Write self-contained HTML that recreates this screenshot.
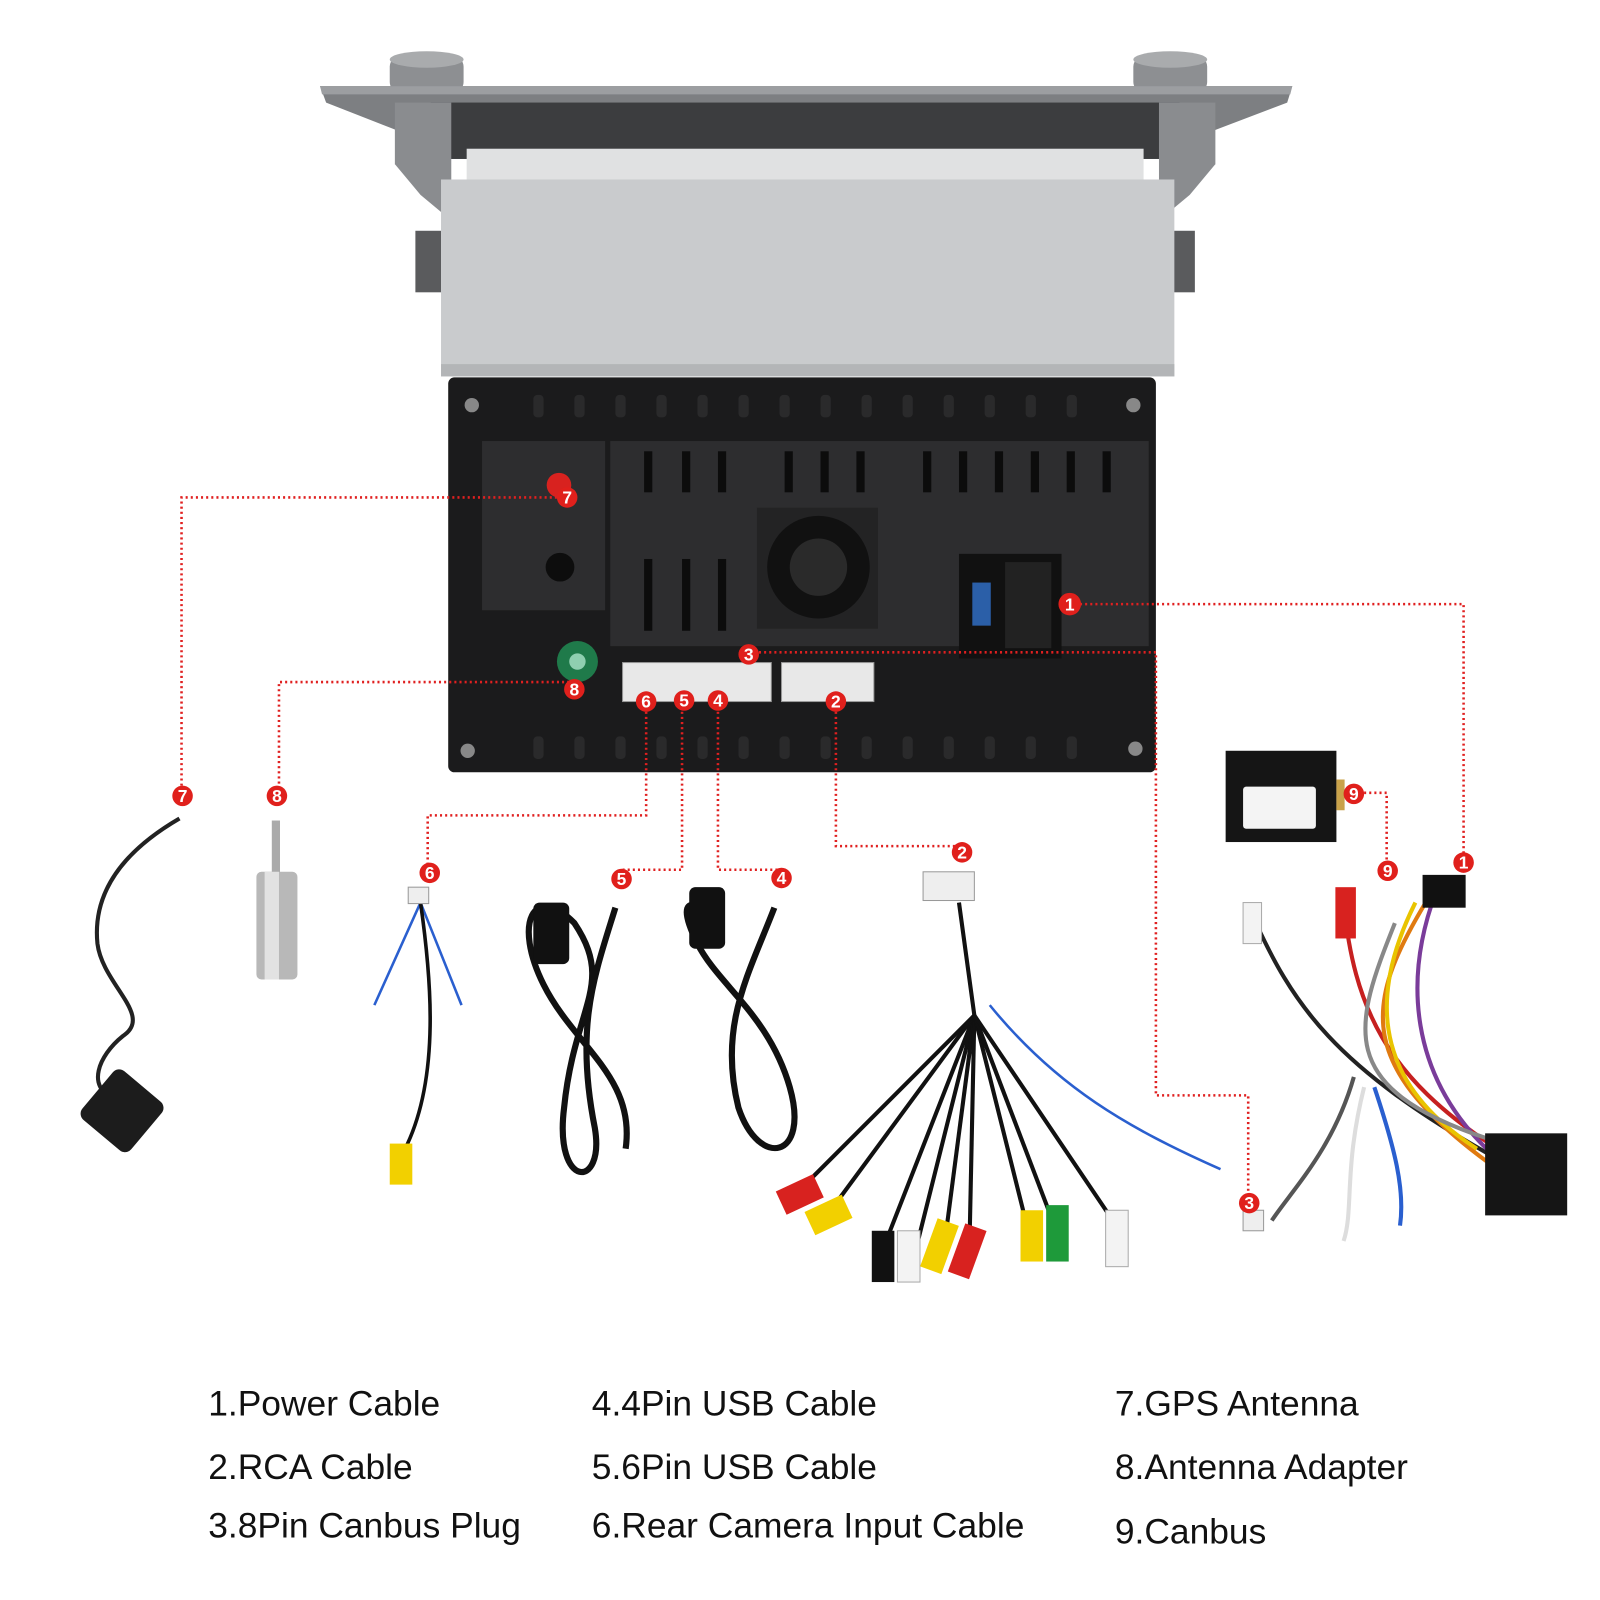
<!DOCTYPE html>
<html><head><meta charset="utf-8"><style>
html,body{margin:0;padding:0;background:#fff;}
svg{display:block;}
text{font-family:"Liberation Sans",sans-serif;}
</style></head><body>
<svg width="1600" height="1600" viewBox="0 0 1560 1560" xmlns="http://www.w3.org/2000/svg">
<rect width="1560" height="1560" fill="#fff"/>
<rect x="380" y="55" width="72" height="35" rx="10" fill="#8d8f92"/>
<ellipse cx="416" cy="58" rx="36" ry="8" fill="#a9abad"/>
<rect x="1105" y="55" width="72" height="35" rx="10" fill="#8d8f92"/>
<ellipse cx="1141" cy="58" rx="36" ry="8" fill="#a9abad"/>
<polygon points="312,84 1260,84 1255,100 1150,140 420,140 318,100" fill="#7d7f82"/>
<polygon points="312,84 1260,84 1258,92 314,92" fill="#9c9ea1"/>
<rect x="420" y="100" width="730" height="55" fill="#3c3d3f"/>
<rect x="455" y="145" width="660" height="32" fill="#e0e1e2"/>
<polygon points="385,100 440,100 440,215 410,190 385,160" fill="#8a8c8f"/>
<polygon points="1130,100 1185,100 1185,160 1160,190 1130,215" fill="#8a8c8f"/>
<rect x="405" y="225" width="25" height="60" fill="#5a5b5d"/>
<rect x="1140" y="225" width="25" height="60" fill="#5a5b5d"/>
<rect x="430" y="175" width="715" height="192" fill="#c9cbcd"/>
<rect x="430" y="355" width="715" height="12" fill="#b3b5b7"/>
<rect x="437" y="368" width="690" height="385" rx="6" fill="#1b1b1c"/>
<g fill="#2d2d2f">
<rect x="470" y="430" width="120" height="165"/>
<rect x="595" y="430" width="525" height="200"/>
</g>
<g fill="#0c0c0c">
<rect x="628" y="440" width="8" height="40"/><rect x="665" y="440" width="8" height="40"/><rect x="700" y="440" width="8" height="40"/>
<rect x="765" y="440" width="8" height="40"/><rect x="800" y="440" width="8" height="40"/><rect x="835" y="440" width="8" height="40"/>
<rect x="900" y="440" width="8" height="40"/><rect x="935" y="440" width="8" height="40"/><rect x="970" y="440" width="8" height="40"/><rect x="1005" y="440" width="8" height="40"/><rect x="1040" y="440" width="8" height="40"/><rect x="1075" y="440" width="8" height="40"/>
<rect x="628" y="545" width="8" height="70"/><rect x="665" y="545" width="8" height="70"/><rect x="700" y="545" width="8" height="70"/>
</g>
<g fill="#2a2a2b">
<rect x="520" y="385" width="10" height="22" rx="4"/><rect x="560" y="385" width="10" height="22" rx="4"/><rect x="600" y="385" width="10" height="22" rx="4"/><rect x="640" y="385" width="10" height="22" rx="4"/><rect x="680" y="385" width="10" height="22" rx="4"/><rect x="720" y="385" width="10" height="22" rx="4"/><rect x="760" y="385" width="10" height="22" rx="4"/><rect x="800" y="385" width="10" height="22" rx="4"/><rect x="840" y="385" width="10" height="22" rx="4"/><rect x="880" y="385" width="10" height="22" rx="4"/><rect x="920" y="385" width="10" height="22" rx="4"/><rect x="960" y="385" width="10" height="22" rx="4"/><rect x="1000" y="385" width="10" height="22" rx="4"/><rect x="1040" y="385" width="10" height="22" rx="4"/>
<rect x="520" y="718" width="10" height="22" rx="4"/><rect x="560" y="718" width="10" height="22" rx="4"/><rect x="600" y="718" width="10" height="22" rx="4"/><rect x="640" y="718" width="10" height="22" rx="4"/><rect x="680" y="718" width="10" height="22" rx="4"/><rect x="720" y="718" width="10" height="22" rx="4"/><rect x="760" y="718" width="10" height="22" rx="4"/><rect x="800" y="718" width="10" height="22" rx="4"/><rect x="840" y="718" width="10" height="22" rx="4"/><rect x="880" y="718" width="10" height="22" rx="4"/><rect x="920" y="718" width="10" height="22" rx="4"/><rect x="960" y="718" width="10" height="22" rx="4"/><rect x="1000" y="718" width="10" height="22" rx="4"/><rect x="1040" y="718" width="10" height="22" rx="4"/>
</g>
<circle cx="460" cy="395" r="7" fill="#888"/><circle cx="1105" cy="395" r="7" fill="#888"/>
<circle cx="456" cy="732" r="7" fill="#888"/><circle cx="1107" cy="730" r="7" fill="#888"/>
<rect x="738" y="495" width="118" height="118" fill="#232324"/>
<circle cx="798" cy="553" r="50" fill="#111"/><circle cx="798" cy="553" r="28" fill="#2a2a2a"/>
<rect x="935" y="540" width="100" height="102" fill="#111"/>
<rect x="948" y="568" width="18" height="42" fill="#2b5fa8"/>
<rect x="980" y="548" width="45" height="84" fill="#222"/>
<circle cx="546" cy="553" r="14" fill="#0d0d0d"/>
<circle cx="545" cy="473" r="12" fill="#d8221f"/>
<circle cx="563" cy="645" r="20" fill="#1f7a4a"/><circle cx="563" cy="645" r="8" fill="#8fcfb0"/>
<rect x="607" y="646" width="145" height="38" fill="#e8e8e8" stroke="#999"/>
<rect x="762" y="646" width="90" height="38" fill="#e8e8e8" stroke="#999"/>
<g fill="none" stroke="#e02020" stroke-width="2.5" stroke-dasharray="2,3">
<polyline points="548,485 177,485 177,775"/>
<polyline points="560,665 272,665 272,775"/>
<polyline points="630,684 630,795 417,795 417,851"/>
<polyline points="665,684 665,848 606,848"/>
<polyline points="700,684 700,848 762,848"/>
<polyline points="815,684 815,825 938,825"/>
<polyline points="730,636 1127,636 1127,1068 1217,1068 1217,1172"/>
<polyline points="1043,589 1427,589 1427,840"/>
<polyline points="1320,773 1352,773 1352,848"/>
</g>
<rect x="1195" y="732" width="108" height="89" fill="#151515"/>
<rect x="1212" y="767" width="71" height="41" rx="3" fill="#f4f4f4"/>
<rect x="1303" y="760" width="8" height="30" fill="#c9a24a"/>
<path d="M175,798 C120,830 90,870 95,920 C100,960 150,990 120,1010 C95,1030 85,1060 110,1070" fill="none" stroke="#222" stroke-width="4"/>
<rect x="88" y="1052" width="62" height="62" rx="8" transform="rotate(40 119 1083)" fill="#1c1c1c"/>
<rect x="265" y="800" width="8" height="55" fill="#aaa"/>
<rect x="250" y="850" width="40" height="105" rx="5" fill="#b8b8b8"/>
<rect x="258" y="850" width="14" height="105" fill="#e2e2e2"/>
<path d="M410,880 L365,980 M410,880 L450,980" stroke="#2a5fcf" stroke-width="2.5" fill="none"/>
<path d="M410,880 C420,950 430,1050 395,1120" stroke="#111" stroke-width="3.5" fill="none"/>
<rect x="398" y="865" width="20" height="16" fill="#eee" stroke="#999"/>
<rect x="380" y="1115" width="22" height="40" fill="#f2d000"/>
<path d="M600,885 C580,950 560,1000 580,1100 C590,1160 540,1160 550,1080 C560,980 600,960 560,900 C520,860 500,900 530,960 C560,1020 620,1050 610,1120" stroke="#111" stroke-width="6" fill="none"/>
<rect x="520" y="880" width="35" height="60" rx="6" fill="#111"/>
<path d="M755,885 C730,950 700,1000 720,1080 C740,1140 790,1130 770,1060 C750,990 700,960 680,920 C660,880 670,870 700,900" stroke="#111" stroke-width="6" fill="none"/>
<rect x="672" y="865" width="35" height="60" rx="6" fill="#111"/>
<rect x="900" y="850" width="50" height="28" fill="#eee" stroke="#999"/>
<g stroke="#111" stroke-width="4" fill="none">
<path d="M935,880 L950,990 L780,1160"/><path d="M950,990 L810,1180"/><path d="M950,990 L860,1220"/><path d="M950,990 L890,1230"/><path d="M950,990 L920,1220"/><path d="M950,990 L945,1225"/><path d="M950,990 L1005,1210"/><path d="M950,990 L1030,1200"/><path d="M950,990 L1085,1190"/>
</g>
<path d="M965,980 C1030,1060 1100,1100 1190,1140" stroke="#2a5fcf" stroke-width="2.5" fill="none"/>
<rect x="760" y="1152" width="40" height="25" fill="#d8221f" transform="rotate(-25 780 1165)"/>
<rect x="788" y="1172" width="40" height="25" fill="#f2d000" transform="rotate(-25 808 1185)"/>
<rect x="850" y="1200" width="22" height="50" fill="#111"/>
<rect x="875" y="1200" width="22" height="50" fill="#f3f3f3" stroke="#aaa"/>
<rect x="905" y="1190" width="22" height="50" fill="#f2d000" transform="rotate(20 916 1215)"/>
<rect x="932" y="1195" width="22" height="50" fill="#d8221f" transform="rotate(20 943 1220)"/>
<rect x="995" y="1180" width="22" height="50" fill="#f2d000"/>
<rect x="1020" y="1175" width="22" height="55" fill="#1e9a3a"/>
<rect x="1078" y="1180" width="22" height="55" fill="#f3f3f3" stroke="#aaa"/>
<g stroke-width="4" fill="none">
<path d="M1220,890 C1260,980 1300,1040 1460,1130" stroke="#222"/>
<path d="M1310,880 C1320,980 1350,1050 1460,1120" stroke="#c62020"/>
<path d="M1400,870 C1370,950 1370,1050 1460,1130" stroke="#7a3c9a"/>
<path d="M1390,880 C1330,980 1320,1040 1460,1140" stroke="#e07a10"/>
<path d="M1380,880 C1340,960 1330,1050 1440,1120" stroke="#e9c400"/>
<path d="M1360,900 C1320,1000 1300,1060 1450,1110" stroke="#888"/>
<path d="M1320,1050 C1300,1120 1260,1160 1240,1190" stroke="#555"/>
<path d="M1330,1060 C1310,1140 1320,1180 1310,1210" stroke="#ddd"/>
<path d="M1340,1060 C1360,1120 1370,1160 1365,1195" stroke="#2a5fcf"/>
</g>
<rect x="1212" y="880" width="18" height="40" fill="#f3f3f3" stroke="#aaa"/>
<rect x="1302" y="865" width="20" height="50" fill="#d8221f"/>
<rect x="1387" y="853" width="42" height="32" fill="#111"/>
<rect x="1448" y="1105" width="80" height="80" fill="#151515"/>
<rect x="1212" y="1180" width="20" height="20" fill="#eee" stroke="#999"/>
<g font-size="17" font-weight="bold" fill="#fff" text-anchor="middle">
<circle cx="553" cy="485" r="10" fill="#e0201c"/><text x="553" y="491">7</text>
<circle cx="1043" cy="589" r="11" fill="#e0201c"/><text x="1043" y="595">1</text>
<circle cx="730" cy="638" r="10" fill="#e0201c"/><text x="730" y="644">3</text>
<circle cx="560" cy="672" r="10" fill="#e0201c"/><text x="560" y="678">8</text>
<circle cx="630" cy="684" r="10" fill="#e0201c"/><text x="630" y="690">6</text>
<circle cx="667" cy="683" r="10" fill="#e0201c"/><text x="667" y="689">5</text>
<circle cx="700" cy="683" r="10" fill="#e0201c"/><text x="700" y="689">4</text>
<circle cx="815" cy="684" r="10" fill="#e0201c"/><text x="815" y="690">2</text>
<circle cx="178" cy="776" r="10" fill="#e0201c"/><text x="178" y="782">7</text>
<circle cx="270" cy="776" r="10" fill="#e0201c"/><text x="270" y="782">8</text>
<circle cx="1320" cy="774" r="10" fill="#e0201c"/><text x="1320" y="780">9</text>
<circle cx="419" cy="851" r="10" fill="#e0201c"/><text x="419" y="857">6</text>
<circle cx="606" cy="857" r="10" fill="#e0201c"/><text x="606" y="863">5</text>
<circle cx="762" cy="856" r="10" fill="#e0201c"/><text x="762" y="862">4</text>
<circle cx="938" cy="831" r="10" fill="#e0201c"/><text x="938" y="837">2</text>
<circle cx="1353" cy="849" r="10" fill="#e0201c"/><text x="1353" y="855">9</text>
<circle cx="1427" cy="841" r="10" fill="#e0201c"/><text x="1427" y="847">1</text>
<circle cx="1218" cy="1173" r="10" fill="#e0201c"/><text x="1218" y="1179">3</text>
</g>
<g font-size="34.5" fill="#111">
<text x="203" y="1380">1.Power Cable</text>
<text x="203" y="1442">2.RCA Cable</text>
<text x="203" y="1499">3.8Pin Canbus Plug</text>
<text x="577" y="1380">4.4Pin USB Cable</text>
<text x="577" y="1442">5.6Pin USB Cable</text>
<text x="577" y="1499">6.Rear Camera Input Cable</text>
<text x="1087" y="1380">7.GPS Antenna</text>
<text x="1087" y="1442">8.Antenna Adapter</text>
<text x="1087" y="1505">9.Canbus</text>
</g>
</svg>
</body></html>
